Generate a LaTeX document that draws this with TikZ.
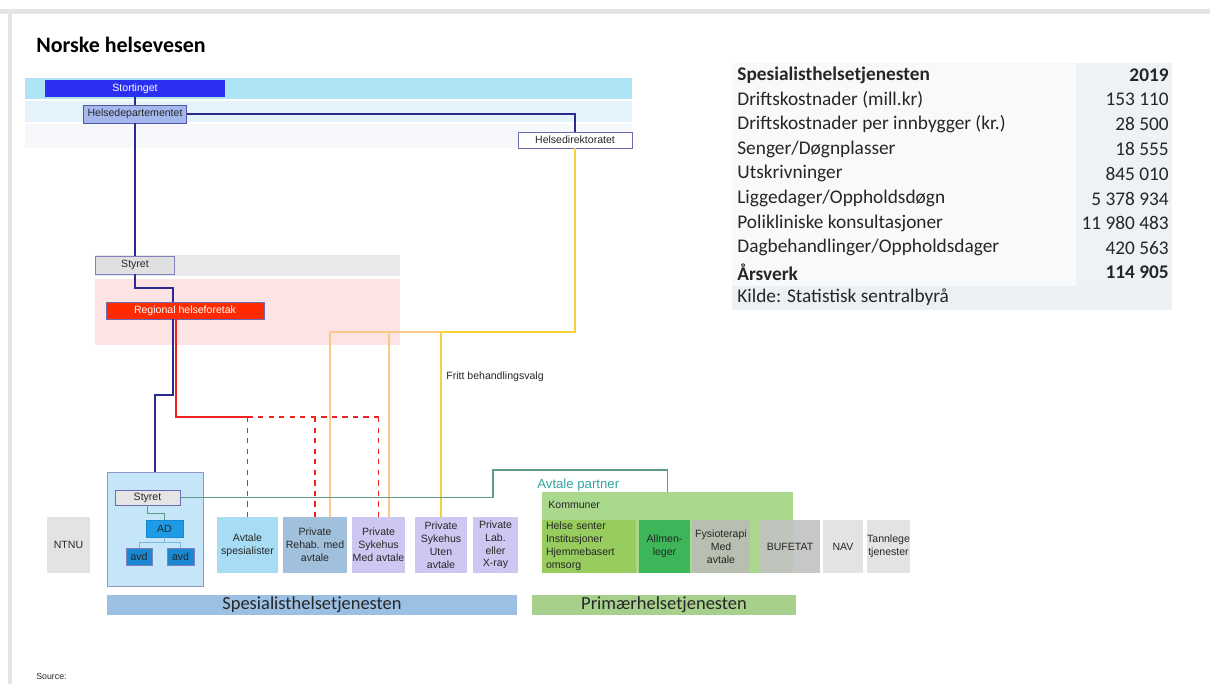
\documentclass[tikz,border=0pt]{standalone}
\usepackage{fontspec}
\setmainfont{Carlito}
\newfontfamily\arialfont{Liberation Sans}
\definecolor{bandcyan}{HTML}{AEE4F6}
\definecolor{bandblue}{HTML}{E4F2FB}
\definecolor{bandpale}{HTML}{F6F8FC}
\definecolor{bandgray}{HTML}{E8E9EA}
\definecolor{bandpink}{HTML}{FDE3E3}
\definecolor{stortblue}{HTML}{2A2FF0}
\definecolor{depfill}{HTML}{A4B8EE}
\definecolor{navy}{HTML}{2B2B8F}
\definecolor{rhfred}{HTML}{FF2A00}
\definecolor{redline}{HTML}{EE2222}
\definecolor{goldline}{HTML}{F5D23C}
\definecolor{paleorange}{HTML}{F7C98A}
\definecolor{hffill}{HTML}{C4E6F8}
\definecolor{adblue}{HTML}{1E9BE6}
\definecolor{avdblue}{HTML}{1A88D0}
\definecolor{tealline}{HTML}{5E9A8A}
\definecolor{tealtext}{HTML}{33A6A0}
\definecolor{avtfill}{HTML}{A8DCF5}
\definecolor{rehabfill}{HTML}{A0C0DC}
\definecolor{lavender}{HTML}{CDC8F2}
\definecolor{kommgreen}{HTML}{AAD88C}
\definecolor{helsegreen}{HTML}{97CC5E}
\definecolor{allmgreen}{HTML}{3DB65A}
\definecolor{fysiogray}{HTML}{B9BFB0}
\definecolor{bufgray}{HTML}{C2C2C2}
\definecolor{lightgray}{HTML}{E3E3E3}
\definecolor{spesbar}{HTML}{9CBFE4}
\definecolor{primbar}{HTML}{A8D08D}
\definecolor{tabbg}{HTML}{F8F9FA}
\definecolor{tabcol}{HTML}{EEF1F5}
\definecolor{tabkilde}{HTML}{ECEFF4}
\begin{document}
\begin{tikzpicture}[x=0.2mm,y=-0.2mm,
    sz/.style 2 args={minimum width=#1*0.2mm,minimum height=#2*0.2mm},
    box/.style={inner sep=0pt,align=center,text=black!85,
      font=\arialfont\fontsize{6}{7.3}\selectfont},
    tabtext/.style={inner sep=0pt,font=\fontsize{11}{13}\selectfont,text=black!85},
    bar/.style={inner sep=0pt,font=\fontsize{10.5}{12}\selectfont,text=black!85},
    blueline/.style={navy,line width=1.1pt},
    redsolid/.style={redline,line width=1pt},
    reddash/.style={redline,line width=1pt,dashed},
    goldsolid/.style={goldline,line width=1.2pt},
    goldthin/.style={paleorange,line width=0.6pt},
    greenline/.style={tealline,line width=0.7pt}]
  \useasboundingbox (0,0) rectangle (1210,684);
  \fill[white] (0,0) rectangle (1210,684);
  % slide frame
  \fill[black!10] (0,9) rectangle (1210,14);
  \fill[black!10] (8,14) rectangle (12,684);
  \node[anchor=west,inner sep=0pt,font=\bfseries\fontsize{12.5}{14}\selectfont] (titel) at (36,45) {Norske helsevesen};

  % bands
  \fill[bandcyan] (25,78) rectangle (632,99);
  \fill[bandblue] (25,101) rectangle (632,122);
  \fill[bandpale] (25,124) rectangle (632,148);
  \fill[bandgray] (95,255) rectangle (400,276);
  \fill[bandpink] (95,279) rectangle (400,345);

  % state level
  \node[box,sz={180}{17},fill=stortblue,text=white] (stort) at (135,88.5) {Stortinget};
  \node[box,sz={103}{18},fill=depfill,draw=navy!80] (dep) at (135,114) {Helsedepartementet};
  \node[box,sz={114}{16},fill=white,draw=navy!70] (dir) at (575,140) {Helsedirektoratet};
  \node[box,sz={79}{18},fill=black!12,draw=navy!60] (styret) at (135,265) {Styret};
  \node[box,sz={158}{17},fill=rhfred,draw=navy!70,text=white] (rhf) at (185,310.5) {Regional helseforetak};

  % helseforetak
  \node[box,sz={96}{114},fill=hffill,draw=navy!50] (hf) at (155,529) {};
  \node[box,sz={65}{15},fill=black!10,draw=navy!70] (styret2) at (147.5,497.5) {Styret};
  \node[box,sz={37}{17},fill=adblue,draw=avdblue] (ad) at (164.5,528.5) {AD};
  \node[box,sz={26}{17},fill=avdblue,draw=navy!60] (avd1) at (139,556.5) {avd};
  \node[box,sz={27}{17},fill=avdblue,draw=navy!60] (avd2) at (180.5,556.5) {avd};

  % service providers
  \node[box,sz={43}{56},fill=lightgray] (ntnu) at (68.5,545) {NTNU};
  \node[box,sz={61}{56},fill=avtfill] (avtspes) at (247.5,545) {Avtale\\spesialister};
  \node[box,sz={64}{56},fill=rehabfill] (prehab) at (315,545) {Private\\Rehab. med\\avtale};
  \node[box,sz={53}{56},fill=lavender] (psykmed) at (378.5,545) {Private\\Sykehus\\Med avtale};
  \node[box,sz={52}{56},fill=lavender] (psykuten) at (441,545) {Private\\Sykehus\\Uten\\avtale};
  \node[box,sz={45}{56},fill=lavender] (plab) at (495.5,545) {Private\\Lab.\\eller\\X-ray};
  \node[box,sz={251}{81},fill=kommgreen] (komm) at (667.5,532.5) {};
  \node[box,anchor=west] (kommlbl) at (548,505) {Kommuner};
  \node[box,sz={94}{53},fill=helsegreen,text width=86*0.2mm,align=left] (helse) at (589,546.5) {Helse senter\\Institusjoner\\Hjemmebasert\\omsorg};
  \node[box,sz={51}{53},fill=allmgreen] (allm) at (664.5,546.5) {Allmen-\\leger};
  \node[box,sz={58}{53},fill=fysiogray] (fysio) at (721,546.5) {Fysioterapi\\Med\\avtale};
  \node[box,sz={60}{53},fill=bufgray,fill opacity=0.9,text opacity=1] (bufetat) at (790,546.5) {BUFETAT};
  \node[box,sz={40}{53},fill=lightgray] (nav) at (843,546.5) {NAV};
  \node[box,sz={43}{53},fill=lightgray] (tann) at (888.5,546.5) {Tannlege\\tjenester};

  \node[bar,sz={410}{20},fill=spesbar] (spes) at (312,605) {Spesialisthelsetjenesten};
  \node[bar,sz={264}{20},fill=primbar] (prim) at (664,605) {Primærhelsetjenesten};

  \node[box,anchor=west] (fritt) at (446,377) {Fritt behandlingsvalg};
  \node[inner sep=0pt,anchor=west,text=tealtext,font=\arialfont\fontsize{7.5}{9}\selectfont] (partner) at (537,485) {Avtale partner};
  \node[box,anchor=west,font=\arialfont\fontsize{5}{6}\selectfont] (source) at (36,676) {Source:};

  % connectors
  \coordinate (bk1) at (173,288);
  \coordinate (bk2) at (155,395);
  \coordinate (rk) at (176,417);
  \coordinate (yk) at (330,332);
  \coordinate (g1) at (493,470);
  \coordinate (g2) at (667.5,470);
  \begin{scope}
    \draw[blueline] (stort) -- (dep);
    \draw[blueline] (dep) -| (dir);
    \draw[blueline] (dep) -- (styret);
    \draw[blueline] (styret.south) |- (bk1) -- (bk1 |- rhf.north);
    \draw[blueline] (bk1 |- rhf.south) |- (bk2) -- (hf.north);
    \draw[redsolid] (rk |- rhf.south) -- (rk) -- (rk -| avtspes);
    \draw[reddash] (rk -| avtspes) -- (rk -| psykmed);
    \draw[reddash] (rk -| avtspes) -- (avtspes);
    \draw[reddash] (rk -| prehab) -- (prehab);
    \draw[reddash] (rk -| psykmed) -- (psykmed);
    \draw[goldsolid] (dir) |- (yk -| psykuten);
    \draw[goldthin] (yk -| psykuten) -- (yk);
    \draw[goldthin] (yk) -- (yk |- prehab.north);
    \draw[goldthin] (389,332) -- (389,517);
    \draw[goldsolid] (yk -| psykuten) -- (psykuten);
    \draw[greenline] (styret2) -| (g1) -- (g2) -- (komm);
    \draw[greenline] (styret2.south) -- ++(0,8) -| (ad.north);
    \draw[avdblue!60,line width=0.5pt] (ad.south) -- ++(0,5) coordinate (ak);
    \draw[avdblue!60,line width=0.5pt] (ak -| avd1) -- (ak -| avd2);
    \draw[avdblue!60,line width=0.5pt] (ak -| avd1) -- (avd1);
    \draw[avdblue!60,line width=0.5pt] (ak -| avd2) -- (avd2);
  \end{scope}

  % table
  \fill[tabbg] (732,63) rectangle (1076,286);
  \fill[tabcol] (1076,63) rectangle (1172,286);
  \fill[tabkilde] (732,286) rectangle (1172,310);
  \node[tabtext,anchor=west,font=\bfseries\fontsize{11}{13}\selectfont] (r0l) at (737,75) {Spesialisthelsetjenesten};
  \node[tabtext,anchor=east,font=\bfseries\fontsize{11}{13}\selectfont] (r0v) at (1169,75) {2019};
  \node[tabtext,anchor=west] (r1l) at (737,99.7) {Driftskostnader (mill.kr)};
  \node[tabtext,anchor=east] (r1v) at (1169,99.7) {153 110};
  \node[tabtext,anchor=west] (r2l) at (737,124.4) {Driftskostnader per innbygger (kr.)};
  \node[tabtext,anchor=east] (r2v) at (1169,124.4) {28 500};
  \node[tabtext,anchor=west] (r3l) at (737,149.1) {Senger/Døgnplasser};
  \node[tabtext,anchor=east] (r3v) at (1169,149.1) {18 555};
  \node[tabtext,anchor=west] (r4l) at (737,173.8) {Utskrivninger};
  \node[tabtext,anchor=east] (r4v) at (1169,173.8) {845 010};
  \node[tabtext,anchor=west] (r5l) at (737,198.5) {Liggedager/Oppholdsdøgn};
  \node[tabtext,anchor=east] (r5v) at (1169,198.5) {5 378 934};
  \node[tabtext,anchor=west] (r6l) at (737,223.2) {Polikliniske konsultasjoner};
  \node[tabtext,anchor=east] (r6v) at (1169,223.2) {11 980 483};
  \node[tabtext,anchor=west] (r7l) at (737,247.9) {Dagbehandlinger/Oppholdsdager};
  \node[tabtext,anchor=east] (r7v) at (1169,247.9) {420 563};
  \node[tabtext,anchor=west,font=\bfseries\fontsize{11}{13}\selectfont] (r8l) at (737,272.6) {Årsverk};
  \node[tabtext,anchor=east,font=\bfseries\fontsize{11}{13}\selectfont] (r8v) at (1169,272.6) {114 905};
  \node[tabtext,anchor=west] (r9l) at (737,297.3) {Kilde: Statistisk sentralbyrå};
\end{tikzpicture}
\end{document}
